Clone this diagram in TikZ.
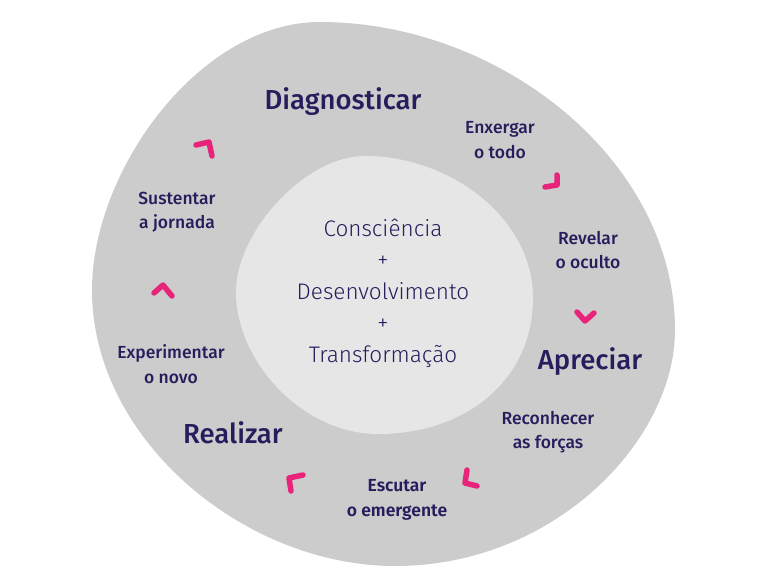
\documentclass[tikz,border=0pt]{standalone}
\usepackage{fontspec}
\setmainfont{Fira Sans}
\newfontfamily\lightfont{Fira Sans Light}
\newfontfamily\medfont{Fira Sans Medium}
\newfontfamily\semifont{Fira Sans SemiBold}
\definecolor{navy}{RGB}{38,30,92}
\definecolor{pinkc}{RGB}{232,35,122}
\definecolor{outerg}{RGB}{204,204,204}
\definecolor{innerg}{RGB}{230,230,230}
\begin{document}
\begin{tikzpicture}[x=1pt,y=-1pt,
  big/.style={text=navy,font=\medfont\fontsize{27.5}{30}\selectfont},
  small/.style={text=navy,align=center,font=\medfont\fontsize{17.5}{24.5}\selectfont},
  core/.style={text=navy,align=center,font=\lightfont\fontsize{22.5}{31.5}\selectfont},
  chev/.style={draw=pinkc,line width=5.5pt,line cap=round,line join=round}]
\useasboundingbox (0,0) rectangle (768,575);
\fill[white] (0,0) rectangle (768,575);
\fill[outerg] (320,22) .. controls (500,22) and (675,160) .. (675,330)
  .. controls (675,440) and (555,566) .. (395,566)
  .. controls (245,566) and (92,440) .. (92,290)
  .. controls (92,170) and (200,22) .. (320,22) -- cycle;
\fill[innerg] (365,156) .. controls (450,156) and (533,218) .. (533,298)
  .. controls (533,378) and (468,434) .. (378,434)
  .. controls (303,434) and (236,362) .. (236,292)
  .. controls (236,232) and (305,156) .. (365,156) -- cycle;
\node[big] (diag) at (343,102) {Diagnosticar};
\node[big] (apre) at (590,362) {Apreciar};
\node[big] (real) at (233,433) {Realizar};
\node[small] (enx) at (500,140) {Enxergar\\o todo};
\node[small] (rev) at (588,250) {Revelar\\o oculto};
\node[small] (rec) at (548,432) {Reconhecer\\as forças};
\node[small,font=\semifont\fontsize{17.5}{24.5}\selectfont] (esc) at (397,500) {Escutar\\o emergente};
\node[small] (exp) at (171,364) {Experimentar\\o novo};
\node[small] (sus) at (177,212) {Sustentar\\a jornada};
\node[core] (core) at (383,293) {Consciência\\+\\Desenvolvimento\\+\\Transformação};
\draw[chev] (196,145) -- (209,142) -- (212,156);
\draw[chev] (545,187) -- (557,185) -- (557,175);
\draw[chev] (577,312) -- (585,321) -- (594,313);
\draw[chev] (467,470) -- (465,483) -- (477,486);
\draw[chev] (291,491) -- (289,478) -- (303,475);
\draw[chev] (154,293) -- (163,285) -- (172,296);
\end{tikzpicture}
\end{document}
